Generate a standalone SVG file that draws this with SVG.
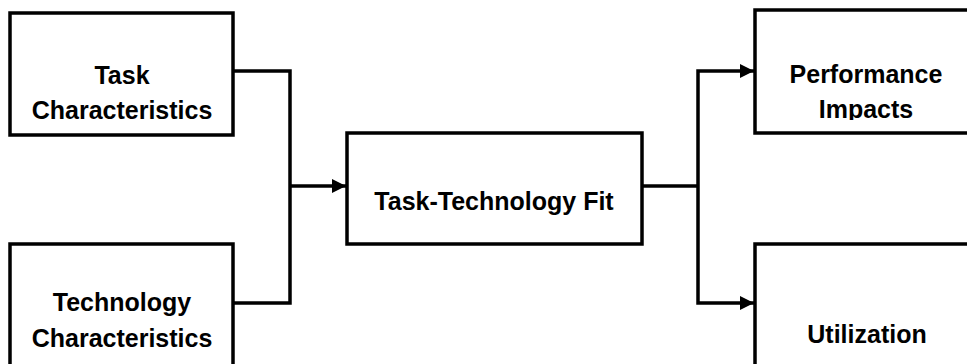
<svg xmlns="http://www.w3.org/2000/svg" width="967" height="364" viewBox="0 0 967 364">
<style>
.box{fill:#fff;stroke:#000;stroke-width:3.5}
.lbl{font-family:"Liberation Sans",Arial,sans-serif;font-weight:bold;font-size:25px;fill:#000;text-anchor:middle}
.con{fill:none;stroke:#000;stroke-width:3.5;stroke-linejoin:miter}
</style>
<defs>
<marker id="arr" viewBox="0 0 10 10" refX="10" refY="5" markerWidth="14" markerHeight="14" markerUnits="userSpaceOnUse" orient="auto">
<path d="M0,0 L10,5 L0,10 z" fill="#000"/>
</marker>
<clipPath id="clipPerf"><rect x="755" y="12" width="212" height="108"/></clipPath>
</defs>
<rect width="967" height="364" fill="#fff"/>
<g id="connectors">
<polyline class="con" points="233,71 290,71 290,303 233,303"/>
<line class="con" x1="290" y1="186" x2="346" y2="186" marker-end="url(#arr)"/>
<line class="con" x1="642" y1="186" x2="698" y2="186"/>
<path class="con" d="M698,186 V71 H754" marker-end="url(#arr)"/>
<path class="con" d="M698,186 V303 H754" marker-end="url(#arr)"/>
</g>
<g id="task">
<rect class="box" x="10" y="13" width="223" height="122"/>
<text class="lbl" x="122" y="84">Task</text>
<text class="lbl" x="122" y="119">Characteristics</text>
</g>
<g id="technology">
<rect class="box" x="10" y="244" width="223" height="130"/>
<text class="lbl" x="122" y="311">Technology</text>
<text class="lbl" x="122" y="347">Characteristics</text>
</g>
<g id="ttf">
<rect class="box" x="347" y="133" width="295" height="111"/>
<text class="lbl" x="494" y="210">Task-Technology Fit</text>
</g>
<g id="performance">
<rect class="box" x="755" y="10" width="225" height="123"/>
<g clip-path="url(#clipPerf)">
<text class="lbl" x="866" y="83">Performance</text>
<text class="lbl" x="866" y="118">Impacts</text>
</g>
</g>
<g id="utilization">
<rect class="box" x="755" y="244" width="225" height="130"/>
<text class="lbl" x="867" y="343">Utilization</text>
</g>
</svg>
